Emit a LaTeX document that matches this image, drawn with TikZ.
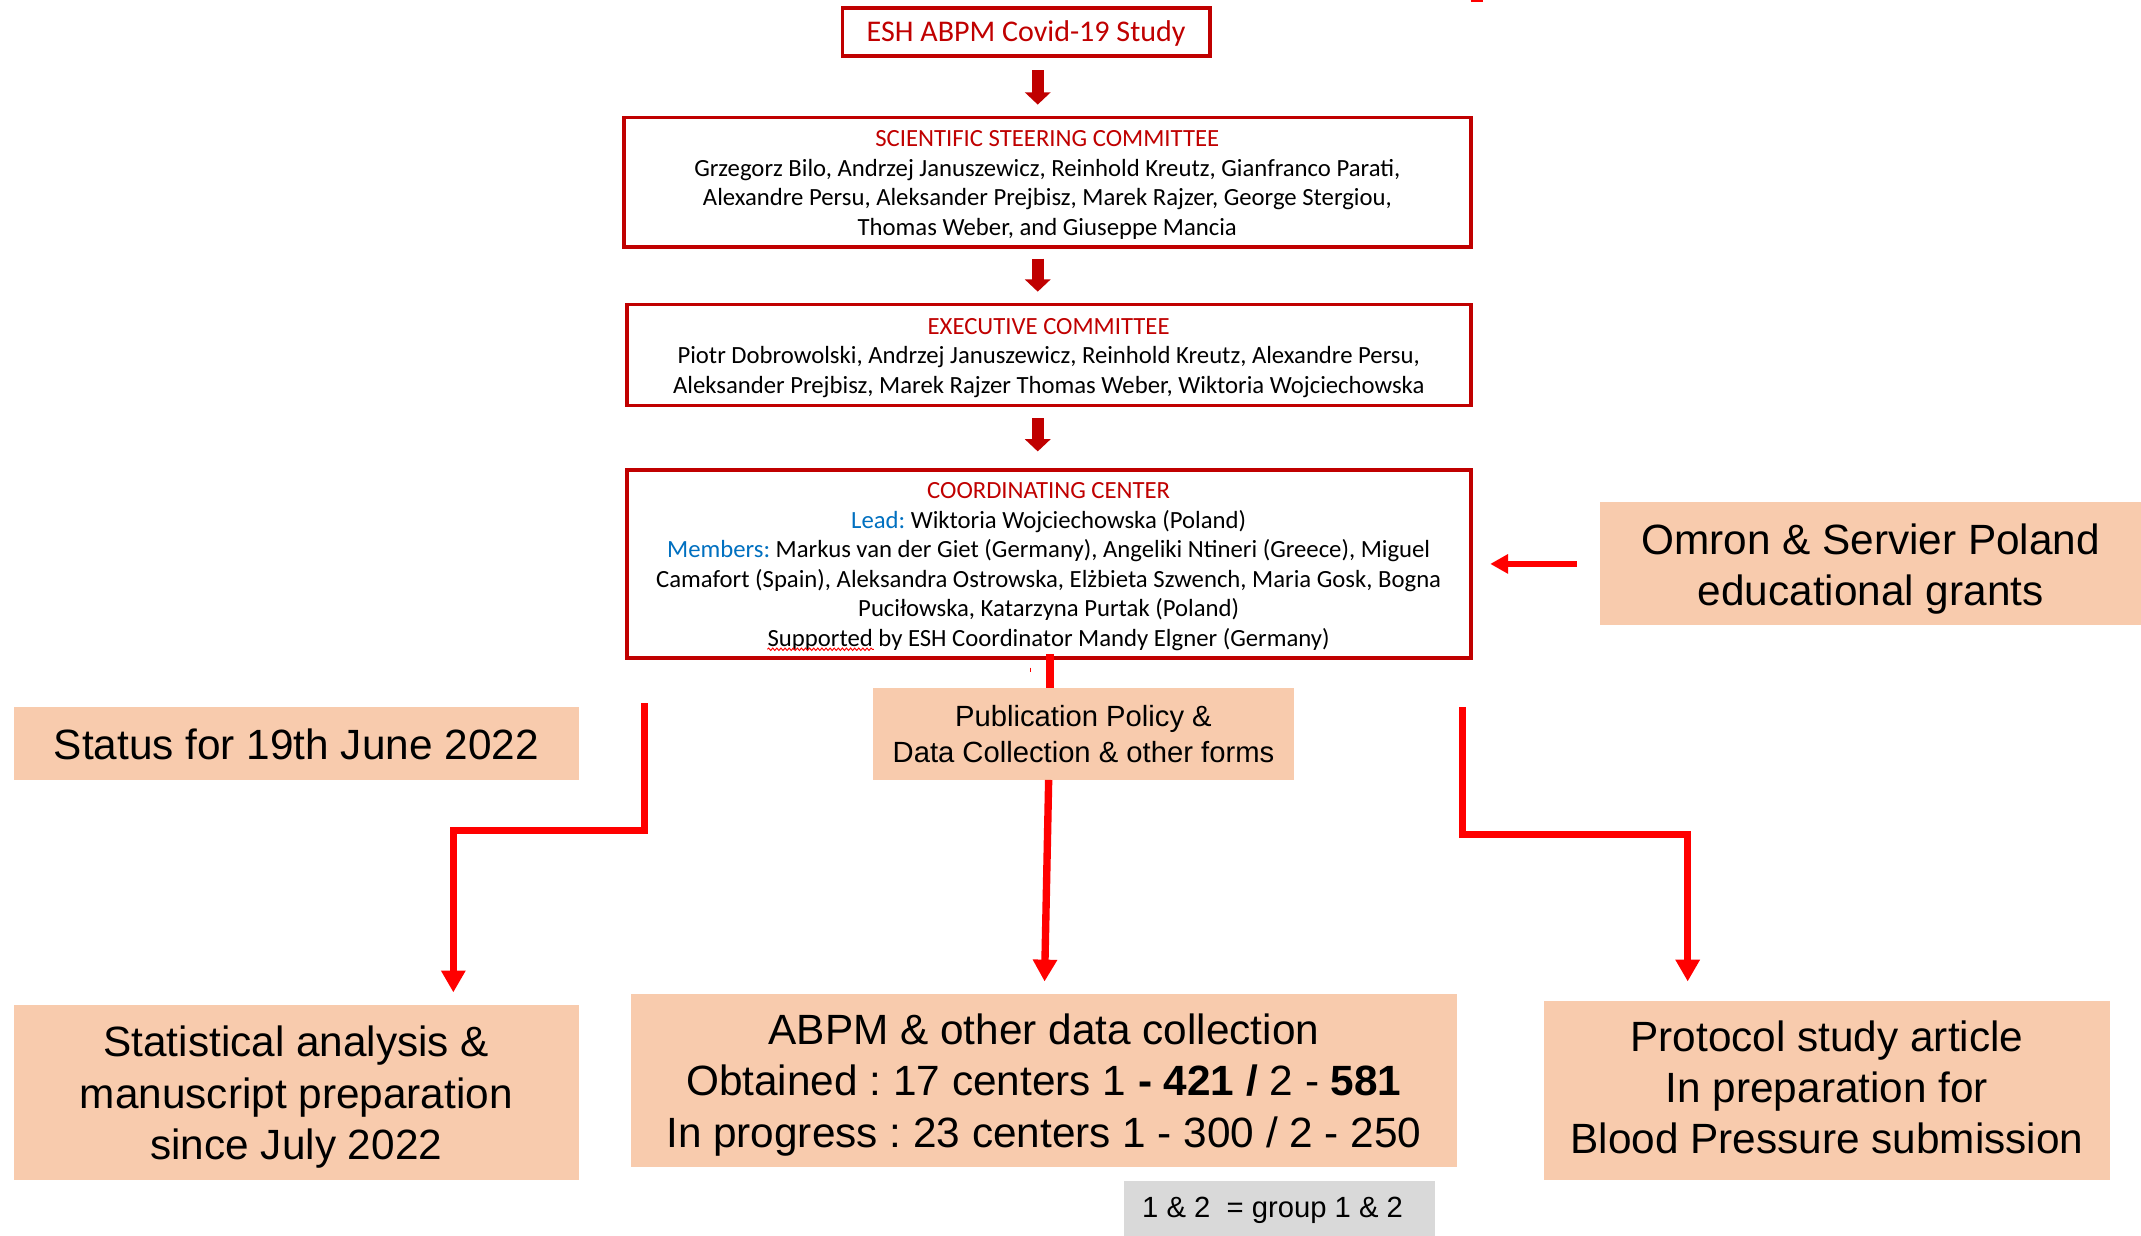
\documentclass[tikz,border=0pt]{standalone}
\usepackage{fontspec}
\setmainfont{Carlito}
\newfontfamily\arialf{Liberation Sans}
\usetikzlibrary{arrows.meta,calc,decorations.pathmorphing}
\definecolor{dred}{HTML}{C00000}
\definecolor{peach}{HTML}{F8CBAD}
\definecolor{mblue}{HTML}{0070C0}
\definecolor{lred}{HTML}{FF0000}
\definecolor{lgrey}{HTML}{D9D9D9}
\frenchspacing
\begin{document}
\begin{tikzpicture}[x=1pt,y=-1pt,
  redbox/.style={draw=dred, line width=2.8pt, fill=white, inner sep=0pt},
  redtxt/.style={inner sep=0pt, align=center, font=\fontsize{18.1}{21.6}\selectfont},
  peachbox/.style={fill=peach, inner sep=0pt},
  peachtxt/.style={inner sep=0pt, align=center, font=\arialf\fontsize{31}{37.5}\selectfont},
  greybox/.style={fill=lgrey, inner sep=0pt},
  blk/.style={dred, line width=8.8pt, -{Triangle[width=18.5pt,length=9pt]}},
  conn/.style={lred, line width=5.4pt, -{Triangle[width=17pt,length=16pt]}},
  sideconn/.style={lred, line width=4.4pt, -{Triangle[width=13.5pt,length=13pt]}},
  plainline/.style={lred, line width=5.8pt},
  wavy/.style={lred, line width=0.7pt, decorate, decoration={snake, amplitude=0.9pt, segment length=3pt}}]
\useasboundingbox (0,0) rectangle (1568,905);

% red outlined boxes
\node[redbox, minimum width=269pt, minimum height=35pt] (esh) at (751.5,23.5) {};
\node[redtxt, text=dred, font=\fontsize{22}{26}\selectfont] (esht) at ($(esh)+(0,1)$) {ESH ABPM Covid-19 Study};

\node[redbox, minimum width=620pt, minimum height=95pt] (ssc) at (767,133.5) {};
\node[redtxt] (ssct) at ($(ssc)+(0,2)$)
  {\textcolor{dred}{SCIENTIFIC STEERING COMMITTEE}\\
   Grzegorz Bilo, Andrzej Januszewicz, Reinhold Kreutz, Gianfranco Parati,\\
   Alexandre Persu, Aleksander Prejbisz, Marek Rajzer, George Stergiou,\\
   Thomas Weber, and Giuseppe Mancia};

\node[redbox, minimum width=618pt, minimum height=74pt] (exe) at (768,260) {};
\node[redtxt] (exet) at ($(exe)+(0,2)$)
  {\textcolor{dred}{EXECUTIVE COMMITTEE}\\
   Piotr Dobrowolski, Andrzej Januszewicz, Reinhold Kreutz, Alexandre Persu,\\
   Aleksander Prejbisz, Marek Rajzer Thomas Weber, Wiktoria Wojciechowska};

\node[redbox, minimum width=618pt, minimum height=138pt] (coord) at (768,413) {};
\node[redtxt] (coordt) at ($(coord)+(0,2)$)
  {\textcolor{dred}{COORDINATING CENTER}\\
   \textcolor{mblue}{Lead:} Wiktoria Wojciechowska (Poland)\\
   \textcolor{mblue}{Members:} Markus van der Giet (Germany), Angeliki Ntineri (Greece), Miguel\\
   Camafort (Spain), Aleksandra Ostrowska, Elżbieta Szwench, Maria Gosk, Bogna\\
   Puciłowska, Katarzyna Purtak (Poland)\\
   Supported by ESH Coordinator Mandy Elgner (Germany)};

% peach boxes
\node[peachbox, minimum width=396pt, minimum height=90pt] (omron) at (1370,413) {};
\node[peachtxt] (omront) at ($(omron)+(0,4)$) {Omron \& Servier Poland\\educational grants};

\node[peachbox, minimum width=309pt, minimum height=67pt] (pub) at (793.5,537.5) {};
\node[peachtxt, font=\arialf\fontsize{21.4}{26}\selectfont] (pubt) at ($(pub)+(0,0)$)
  {Publication Policy \&\\Data Collection \& other forms};

\node[peachbox, minimum width=414pt, minimum height=53pt] (status) at (217,544.5) {};
\node[peachtxt] (statust) at ($(status)+(0,1)$) {Status for 19th June 2022};

\node[peachbox, minimum width=414pt, minimum height=128pt] (stat) at (217,800) {};
\node[peachtxt] (statt) at ($(stat)+(0,3.5)$)
  {Statistical analysis \&\\manuscript preparation\\since July 2022};

\node[peachbox, minimum width=605pt, minimum height=127pt] (abpm) at (764.5,791.5) {};
\node[peachtxt] (abpmt) at ($(abpm)+(0,3)$)
  {ABPM \& other data collection\\
   Obtained : 17 centers 1 \textbf{- 421 /} 2 - \textbf{581}\\
   In progress : 23 centers 1 - 300 / 2 - 250};

\node[peachbox, minimum width=414pt, minimum height=131pt] (proto) at (1338,798.5) {};
\node[peachtxt] (protot) at ($(proto)+(0,-2)$)
  {Protocol study article\\In preparation for\\Blood Pressure submission};

\node[greybox, minimum width=228pt, minimum height=40pt] (grey) at (937,885) {};
\node[peachtxt, font=\arialf\fontsize{21.4}{24}\selectfont] (greyt) at ($(grey)+(-5,1.5)$)
  {1 \& 2~~= group 1 \& 2};

% block arrows
\coordinate (ax) at (760,0);
\draw[blk] ($(esh.south -| ax)+(0,9)$) -- ($(ssc.north -| ax)+(0,-8)$);
\draw[blk] ($(ssc.south -| ax)+(0,7)$) -- ($(exe.north -| ax)+(0,-8)$);
\draw[blk] ($(exe.south -| ax)+(0,8)$) -- ($(coord.north -| ax)+(0,-12)$);

% red connectors
\draw[sideconn] ($(omron.west)+(-17,0)$) -- ($(coord.east)+(13,0)$);
\coordinate (px) at (769,0);
\draw[plainline] ($(coord.south -| px)+(0,-4.5)$) -- (pub.north -| px);
\draw[conn] ($(pub.south)+(-25.5,0)$) -- ($(abpm.north)+(0.5,-9)$);
\coordinate (l0) at (472,515);
\coordinate (l1) at (332,608);
\draw[conn, line join=miter] (l0) |- (l1) -- ($(stat.north -| l1)+(0,-9)$);
\coordinate (r0) at (1071,518);
\coordinate (r1) at (1236,611);
\draw[conn, line join=miter] (r0) |- (r1) -- ($(proto.north -| r1)+(0,-14)$);

% small marks
\coordinate (m0) at (1077,0.8);
\coordinate (m1) at (1086,0.8);
\draw[lred, line width=1.2pt] (m0) -- (m1);
\coordinate (t0) at (754.5,489);
\coordinate (t1) at (754.5,492.5);
\draw[lred, line width=0.8pt] (t0) -- (t1);
\coordinate (w0) at (562,475.5);
\coordinate (w1) at (640,475.5);
\draw[wavy] (w0) -- (w1);
\end{tikzpicture}
\end{document}
